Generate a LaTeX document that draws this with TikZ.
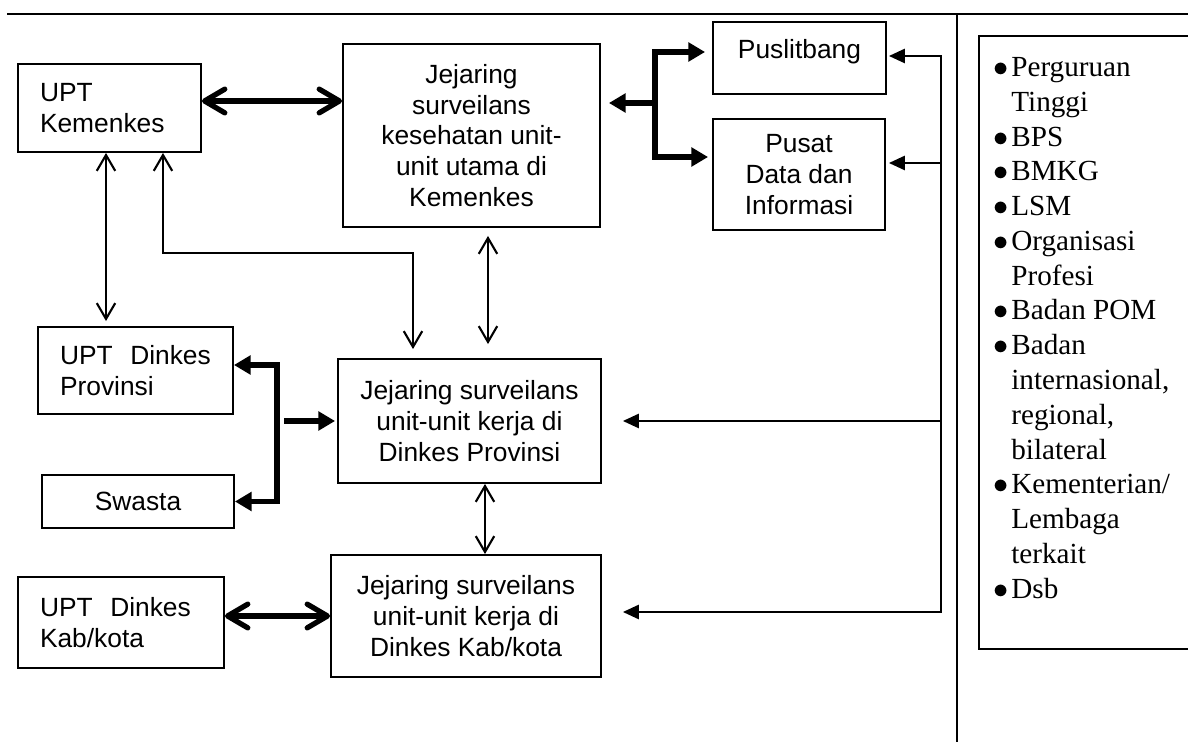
\documentclass[tikz,border=0pt]{standalone}
\usepackage{fontspec}
\setmainfont{Liberation Sans}
\newfontfamily\listfont{Liberation Serif}
\usetikzlibrary{arrows.meta}

\newcommand{\lbul}{\makebox[0.36cm][l]{$\bullet$}}
\newcommand{\lind}{\hspace*{0.36cm}}

\begin{document}
\begin{tikzpicture}[x=0.02cm, y=-0.02cm, font=\fontsize{15}{17.5}\selectfont]
    \tikzstyle{unit} = [draw, rectangle, line width=1.1pt, align=center, inner sep=0pt]
    \tikzstyle{upt} = [draw, rectangle, line width=1.1pt, align=left, inner xsep=0.44cm, inner ysep=0pt]
    \tikzstyle{thinline} = [line width=1.2pt]
    \tikzstyle{thinboth} = [line width=1.2pt, arrows={Straight Barb[length=9pt,width=10.5pt]-Straight Barb[length=9pt,width=10.5pt]}]
    \tikzstyle{fatboth} = [line width=3pt, arrows={Straight Barb[length=11.5pt,width=13.5pt,round]-Straight Barb[length=11.5pt,width=13.5pt,round]}]
    \tikzstyle{fatarrow} = [line width=3pt, arrows={-Triangle[length=9.5pt,width=10.5pt]}]
    \tikzstyle{busarrow} = [line width=1.2pt, arrows={-Triangle[length=9pt,width=8pt]}]

    \useasboundingbox (0,0) rectangle (1188,742);
    \clip (0,0) rectangle (1188,742);

    % frame
    \coordinate (topleft) at (7,14);
    \coordinate (topright) at (1188,14);
    \coordinate (divtop) at (957,14);
    \coordinate (divbot) at (957,742);
    \draw[thinline] (topleft) -- (topright);
    \draw[thinline] (divtop) -- (divbot);

    % boxes
    \node[upt, text width=2.78cm, minimum height=1.76cm] (uptkem) at (109.5,108) {UPT\\Kemenkes};
    \node[unit, minimum width=5.14cm, minimum height=3.66cm] (jkem) at (471.5,135.5) {Jejaring\\surveilans\\kesehatan unit-\\unit utama di\\Kemenkes};
    \node[unit, minimum width=3.46cm, minimum height=1.44cm] (puslit) at (799.5,58) {Puslitbang\\[-12pt]\strut};
    \node[unit, minimum width=3.44cm, minimum height=2.22cm] (pusdat) at (799,174.5) {Pusat\\Data dan\\Informasi};
    \node[upt, text width=3.02cm, minimum height=1.74cm] (uptprov) at (135.5,370.5) {\mbox{UPT\ \ Dinkes}\\Provinsi};
    \node[unit, minimum width=3.84cm, minimum height=1.06cm] (swasta) at (138,501.5) {Swasta};
    \node[unit, minimum width=5.26cm, minimum height=2.48cm] (jprov) at (469.5,421) {Jejaring surveilans\\unit-unit kerja di\\Dinkes Provinsi};
    \node[unit, minimum width=5.4cm, minimum height=2.44cm] (jkab) at (466,616) {Jejaring surveilans\\unit-unit kerja di\\Dinkes Kab/kota};
    \node[upt, text width=3.24cm, minimum height=1.82cm] (uptkab) at (121,622.5) {\mbox{UPT\ \ Dinkes}\\Kab/kota};

    % list on the right
    \node[draw, line width=1.1pt, minimum width=4.44cm, minimum height=12.26cm, anchor=north west, inner sep=0pt] (lstbox) at (978,35) {};
    \node[anchor=north west, inner sep=0pt, align=left, font=\listfont\fontsize{16.6}{19.8}\selectfont] (lst) at (993,57)
        {\lbul Perguruan\\\lind Tinggi\\\lbul BPS\\\lbul BMKG\\\lbul LSM\\\lbul Organisasi\\\lind Profesi\\\lbul Badan POM\\\lbul Badan\\\lind internasional,\\\lind regional,\\\lind bilateral\\\lbul Kementerian/\\\lind Lembaga\\\lind terkait\\\lbul Dsb};

    % Kemenkes level
    \draw[fatboth] ([yshift=0.14cm]uptkem.east) -- ([yshift=0.14cm]uptkem.east -| jkem.west);
    \coordinate (fork) at (655,103);
    \draw[fatarrow, shorten >=0.16cm] (fork) -- (fork -| jkem.east);
    \draw[fatarrow, shorten >=0.14cm] (fork) |- ([yshift=0.12cm]puslit.west);
    \draw[fatarrow, shorten >=0.08cm] (fork) |- ([yshift=0.35cm]pusdat.west);

    % bus from the right
    \coordinate (bustop) at (941,56);
    \coordinate (busbot) at (941,612);
    \draw[thinline, arrows={Triangle[length=9pt,width=8pt]-Triangle[length=9pt,width=8pt]}, shorten <=0.04cm, shorten >=0.42cm]
        (bustop -| puslit.east) -- (bustop) -- (busbot) -- (busbot -| jkab.east);
    \draw[busarrow, shorten >=0.06cm] ([yshift=0.23cm]pusdat.east -| bustop) -- ([yshift=0.23cm]pusdat.east);
    \draw[busarrow, shorten >=0.42cm] (jprov.east -| bustop) -- (jprov.east);

    % vertical links
    \draw[thinboth, shorten >=0.1cm] ([xshift=-0.07cm]uptkem.south) -- ([xshift=-0.07cm]uptkem.south |- uptprov.north);
    \coordinate (kembend) at (413,253);
    \draw[thinboth, shorten >=0.18cm] ([xshift=1.07cm]uptkem.south) |- (kembend) -- (kembend |- jprov.north);
    \draw[thinboth, shorten <=0.16cm, shorten >=0.28cm] ([xshift=0.33cm]jkem.south) -- ([xshift=0.33cm]jkem.south |- jprov.north);
    \draw[thinboth] ([xshift=0.31cm]jprov.south) -- ([xshift=0.31cm]jprov.south |- jkab.north);

    % Provinsi level
    \coordinate (provfork) at (277,423);
    \draw[fatarrow] (provfork) |- ([yshift=0.11cm]uptprov.east);
    \draw[fatarrow] (provfork) |- (swasta.east);
    \coordinate (provstart) at (284,421);
    \draw[fatarrow, shorten >=0.04cm] (provstart) -- (provstart -| jprov.west);

    % Kab/kota level
    \draw[fatboth] (jkab.west -| uptkab.east) -- (jkab.west);
\end{tikzpicture}
\end{document}
